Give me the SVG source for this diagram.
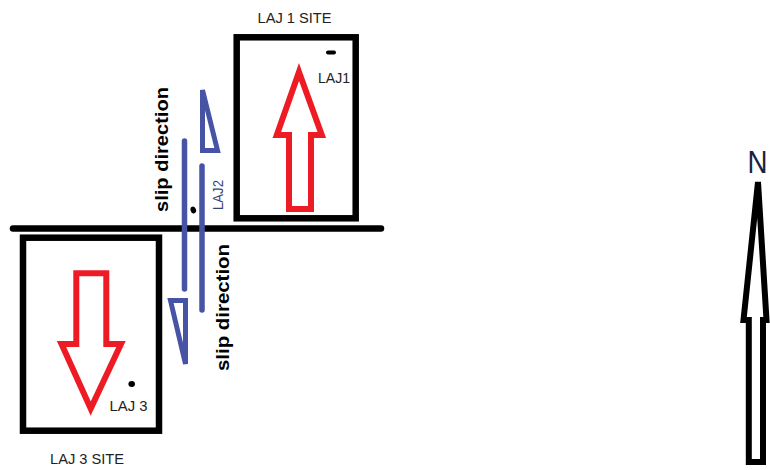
<svg xmlns="http://www.w3.org/2000/svg" width="770" height="470" viewBox="0 0 770 470">
<style>
.box{fill:none;stroke:#000;stroke-width:6.5}
.red{fill:none;stroke:#ed1c24;stroke-width:6;stroke-linejoin:miter;stroke-miterlimit:10}
.blue{fill:none;stroke:#4754a6;stroke-width:5.5;stroke-linecap:round}
.harp{fill:none;stroke:#4754a6;stroke-width:5;stroke-linejoin:miter;stroke-miterlimit:4}
.lbl{font-family:"Liberation Sans",Arial,sans-serif;fill:#222;font-size:14px}
.slip{font-family:"Liberation Sans",Arial,sans-serif;font-weight:bold;fill:#000;font-size:19px}
</style>
<rect width="770" height="470" fill="#fff"/>
<g id="connectors">
<line x1="13" y1="228.5" x2="381" y2="228.5" stroke="#000" stroke-width="6.5" stroke-linecap="round"/>
</g>
<g id="laj1-site">
<rect class="box" x="236.7" y="37.3" width="119" height="181"/>
<text class="lbl" x="257.5" y="23.3" textLength="74" lengthAdjust="spacingAndGlyphs">LAJ 1 SITE</text>
<polygon class="red" points="299,72 321.8,135 311,135 311,209 289,209 289,135 276.8,135"/>
<rect x="326" y="50.5" width="10" height="4" rx="2" fill="#000"/>
<text class="lbl" x="318" y="83.3" textLength="32" lengthAdjust="spacingAndGlyphs">LAJ1</text>
</g>
<g id="laj3-site">
<rect class="box" x="23" y="237.7" width="136" height="193"/>
<polygon class="red" points="76.3,273.3 106.3,273.3 106.3,344 121,344 90.7,408.5 61.5,344 76.3,344"/>
<ellipse cx="131.7" cy="384" rx="3.3" ry="3" fill="#000"/>
<text class="lbl" x="109.5" y="410.7" font-size="15" textLength="38" lengthAdjust="spacingAndGlyphs">LAJ 3</text>
<text class="lbl" x="50" y="464" font-size="15" textLength="74" lengthAdjust="spacingAndGlyphs">LAJ 3 SITE</text>
</g>
<g id="slip-upper">
<line class="blue" x1="202" y1="166" x2="202" y2="310"/>
<polygon class="harp" points="202.5,90 217.5,150.5 202.5,150.5"/>
<text class="slip" transform="translate(168.3,212) rotate(-90)" textLength="125" lengthAdjust="spacingAndGlyphs">slip direction</text>
</g>
<g id="slip-lower">
<line class="blue" x1="184.5" y1="141" x2="184.5" y2="289"/>
<polygon class="harp" points="170.5,300.5 185.5,300.5 185.5,364"/>
<text class="slip" transform="translate(228.5,371) rotate(-90)" textLength="127" lengthAdjust="spacingAndGlyphs">slip direction</text>
</g>
<g id="laj2">
<ellipse cx="193.3" cy="210" rx="2.7" ry="3.5" transform="rotate(-20 193.3 210)" fill="#000"/>
<text class="lbl" transform="translate(222.7,210) rotate(-90)" font-size="15" style="fill:#3a4275" textLength="30" lengthAdjust="spacingAndGlyphs">LAJ2</text>
</g>
<g id="north">
<text x="757.5" y="173.3" font-family="'Liberation Sans',Arial,sans-serif" font-size="31" fill="#1b2140" text-anchor="middle" textLength="20" lengthAdjust="spacingAndGlyphs">N</text>
<polygon points="758,182 766.5,320 763,320 763,462 748.8,462 748.8,320 743.5,320" fill="none" stroke="#000" stroke-width="6" stroke-linejoin="miter" stroke-miterlimit="4"/>
</g>
</svg>
